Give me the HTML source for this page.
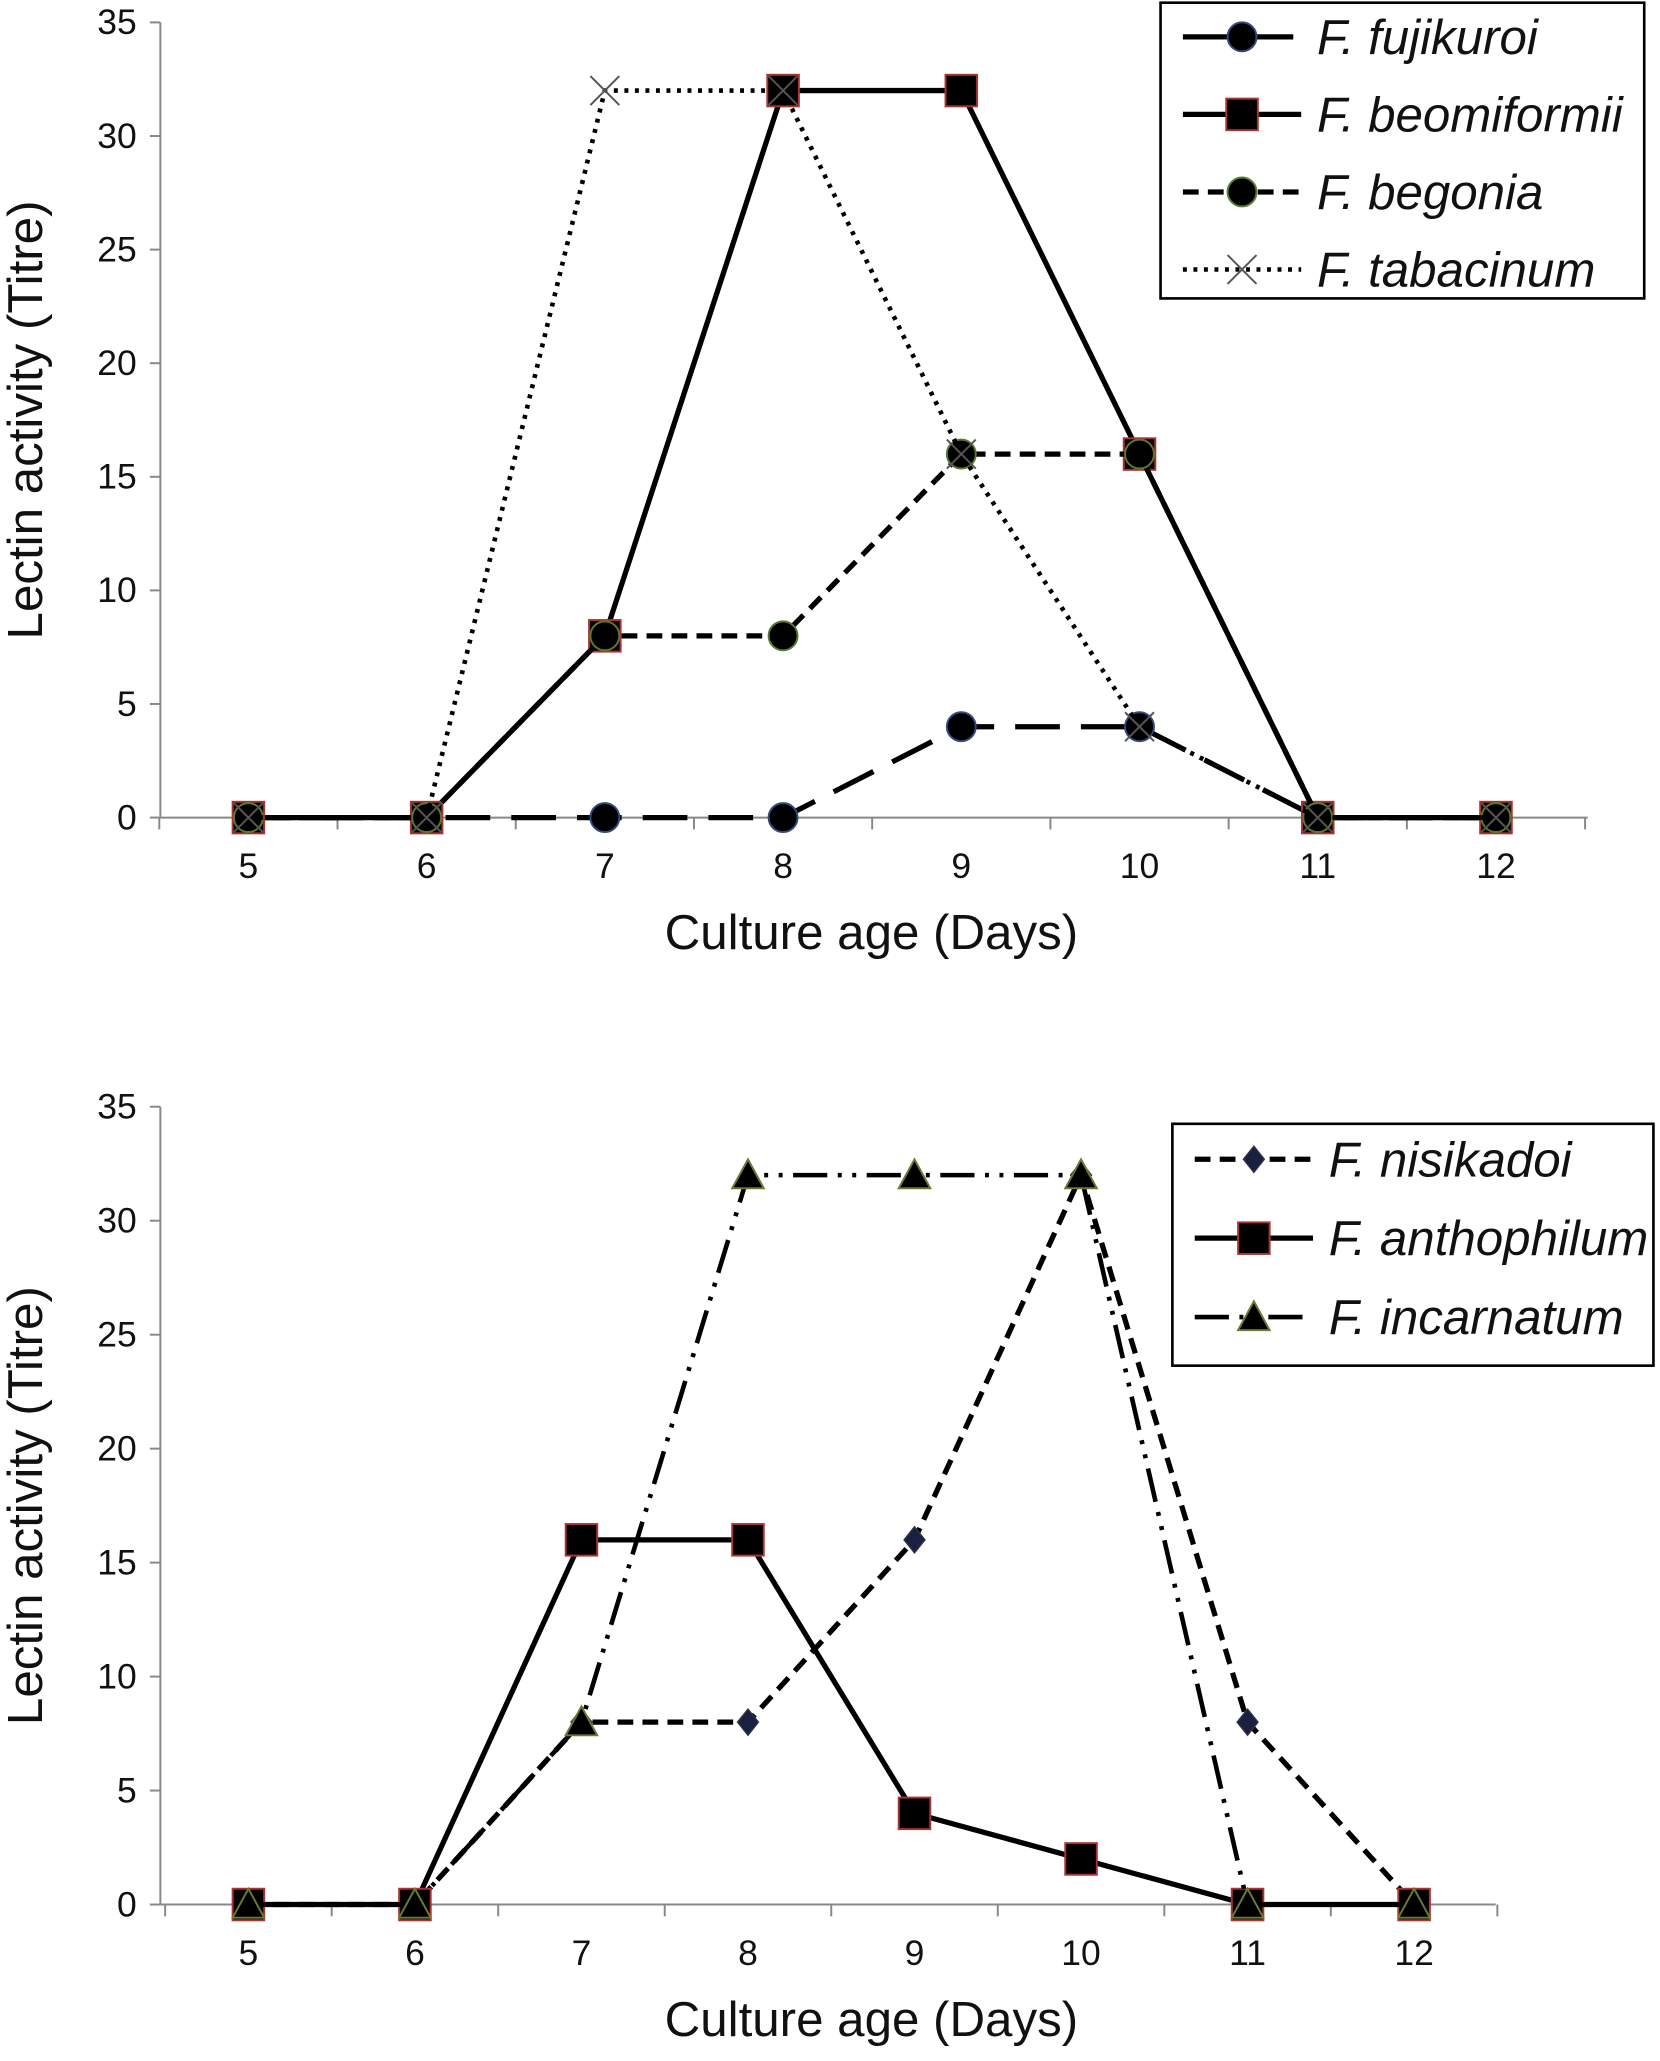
<!DOCTYPE html>
<html><head><meta charset="utf-8">
<style>html,body{margin:0;padding:0;background:#fff}svg{display:block}text{font-family:"Liberation Sans",sans-serif;fill:#111}</style>
</head><body>
<svg id="c" width="1660" height="2061" viewBox="0 0 1263 1568" xmlns="http://www.w3.org/2000/svg"></svg>
<script>
const days=[5,6,7,8,9,10,11,12];
const yTicks=[0,5,10,15,20,25,30,35];
const topNames=["F. fujikuroi","F. beomiformii","F. begonia","F. tabacinum"];
const fujikuroi=[0,0,0,0,4,4,0,0];
const beomiformii=[0,0,8,32,32,16,0,0];
const begonia=[0,0,8,8,16,16,0,0];
const tabacinum=[0,0,32,32,16,4,0,0];
const botNames=["F. nisikadoi","F. anthophilum","F. incarnatum"];
const nisikadoi=[0,0,8,8,16,32,8,0];
const anthophilum=[0,0,16,16,4,2,0,0];
const incarnatum=[0,0,8,32,32,32,0,0];

const svg=document.getElementById('c');
const NS="http://www.w3.org/2000/svg";
function el(t,a,p){const e=document.createElementNS(NS,t);for(const k in a)e.setAttribute(k,a[k]);(p||svg).appendChild(e);return e;}

function marker(g,type,x,y,edge){
  let m;
  if(type==='circle')m=el('circle',{cx:x,cy:y,r:11,fill:'#000',stroke:edge,'stroke-width':1.5},g);
  else if(type==='square')m=el('rect',{x:x-12,y:y-12,width:24,height:24,fill:'#000',stroke:edge,'stroke-width':1.5},g);
  else if(type==='diamond')m=el('polygon',{points:`${x},${y-10} ${x+8},${y} ${x},${y+10} ${x-8},${y}`,fill:'#1a2040',stroke:'#334',"stroke-width":1},g);
  else if(type==='tri')m=el('polygon',{points:`${x},${y-12} ${x+12},${y+10} ${x-12},${y+10}`,fill:'#000',stroke:'#6a7a30','stroke-width':1.5},g);
  else {m=el('path',{d:`M${x-11},${y-11}L${x+11},${y+11}M${x+11},${y-11}L${x-11},${y+11}`,stroke:'#555','stroke-width':1.5,fill:'none'},g);}
  return m;
}

function chart(cfg){
  const g=el('g',{});
  
  
  const sx=d=>cfg.x0+(d-5)*cfg.step;
  const sy=v=>cfg.y0-(v/35)*(cfg.y0-cfg.y35);
  const ax=el('g',{},g);
  
  
  el('line',{x1:122,y1:cfg.y35,x2:122,y2:cfg.y0,stroke:'#888','stroke-width':1.5},ax);
  el('line',{x1:122,y1:cfg.y0,x2:cfg.xEnd,y2:cfg.y0,stroke:'#888','stroke-width':1.5},ax);
  yTicks.forEach(t=>{
    el('line',{x1:114,y1:sy(t),x2:122,y2:sy(t),stroke:'#888','stroke-width':1.5},ax);
    const tx=el('text',{x:104,y:sy(t)+9,'text-anchor':'end','font-size':27},ax);tx.textContent=t;
    
    
  });
  for(let i=0;i<=8;i++){const x=sx(4.5+i);el('line',{x1:x,y1:cfg.y0,x2:x,y2:cfg.y0+9,stroke:'#888','stroke-width':1.5},ax);}
  days.forEach(d=>{const tx=el('text',{x:sx(d),y:cfg.y0+46,'text-anchor':'middle','font-size':27},ax);tx.textContent=d;
    
    });
  const xt=el('text',{x:663,y:cfg.y0+100,'text-anchor':'middle','font-size':37.5},ax);xt.textContent='Culture age (Days)';
  
  
  const yc=(cfg.y0+cfg.y35)/2;
  const yt=el('text',{x:32,y:yc,'text-anchor':'middle','font-size':37.5,transform:`rotate(-90 32 ${yc})`},ax);yt.textContent='Lectin activity (Titre)';
  
  
  cfg.series.forEach(s=>{
    const sg=el('g',{},g);
    
    
    el('polyline',{points:s.data.map((v,i)=>sx(days[i])+','+sy(v)).join(' '),fill:'none',stroke:'#000','stroke-width':s.w||4,'stroke-dasharray':s.dash||'none'},sg);
    s.data.forEach((v,i)=>{const m=marker(sg,s.m,sx(days[i]),sy(v),s.edge);
      
      });
  });
  const lg=el('g',{},g);
  
  
  const L=cfg.legend;
  el('rect',{x:L.x,y:L.y,width:L.w,height:L.h,fill:'#fff',stroke:'#000','stroke-width':2},lg);
  cfg.series.forEach((s,i)=>{
    const y=L.first+i*L.gap;
    const e=el('g',{},lg);
    
    
    el('line',{x1:L.x+17,y1:y,x2:L.x+107,y2:y,stroke:'#000','stroke-width':s.w||4,'stroke-dasharray':s.dash||'none'},e);
    marker(e,s.m,L.x+62,y,s.edge);
    const t=el('text',{x:L.x+119,y:y+13,'font-size':37.5,'font-style':'italic'},e);t.textContent=s.label;
  });
}

chart({name:'top-chart',x0:189,step:135.6,y0:622,y35:17,xEnd:1208,
  series:[
    {label:topNames[0],data:fujikuroi,m:'circle',edge:'#334a80',dash:'34 16'},
    {label:topNames[1],data:beomiformii,m:'square',edge:'#a33'},
    {label:topNames[2],data:begonia,m:'circle',edge:'#5a7a30',dash:'12 7'},
    {label:topNames[3],data:tabacinum,m:'x',edge:'#555',dash:'3 5',w:3.5}
  ],
  legend:{x:883,y:2,w:368,h:225,first:28,gap:59}});
chart({name:'bottom-chart',x0:189,step:126.7,y0:1449,y35:842,xEnd:1138,
  series:[
    {label:botNames[0],data:nisikadoi,m:'diamond',edge:'#334',dash:'12 7'},
    {label:botNames[1],data:anthophilum,m:'square',edge:'#a33'},
    {label:botNames[2],data:incarnatum,m:'tri',edge:'#6a7a30',dash:'26 8 3 8 3 8',w:3.5}
  ],
  legend:{x:892,y:855,w:366,h:184,first:882,gap:60}});
</script>
</body></html>
